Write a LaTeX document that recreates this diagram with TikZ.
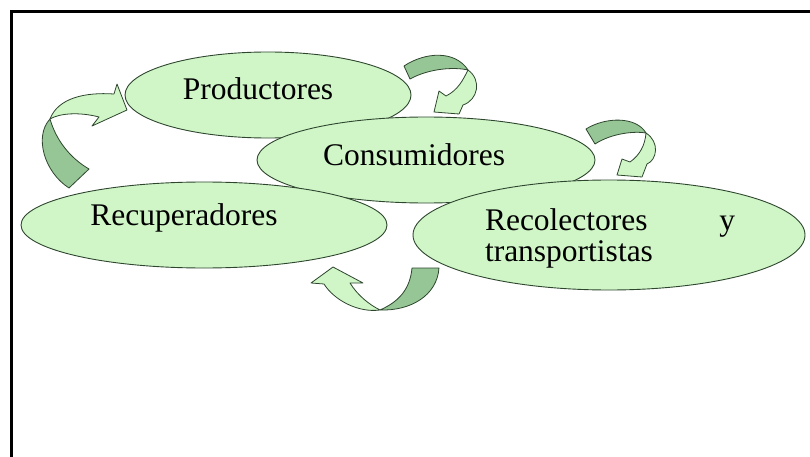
\documentclass[tikz,border=0pt]{standalone}
\usepackage{fontspec}
\setmainfont{Liberation Serif}
\usetikzlibrary{shapes.geometric}

\definecolor{blobfill}{RGB}{208,246,200}
\definecolor{blobline}{RGB}{45,70,45}
\definecolor{arrowdarkfill}{RGB}{150,198,150}

\tikzset{
  blob/.style={ellipse, draw=blobline, fill=blobfill, line width=0.9pt, inner sep=0pt},
  blobtext/.style={inner sep=0pt, font=\fontsize{31.5}{31}\selectfont},
  arrowlight/.style={draw=blobline, fill=blobfill, line width=0.8pt, line join=round},
  arrowdark/.style={draw=blobline, fill=arrowdarkfill, line width=0.8pt, line join=round}
}

\begin{document}
\begin{tikzpicture}[x=1pt, y=-1pt]
  \useasboundingbox (0,0) rectangle (810,457);

  \draw [line width=3pt] (11.5,457) -- (11.5,11.5) -- (810,11.5);

  \node [blob, minimum width=286pt, minimum height=86pt] (prod) at (268,95) {};
  \node [blobtext] (prodtext) at (258,89) {Productores};

  \node [blob, minimum width=338pt, minimum height=86pt] (cons) at (426,160) {};
  \node [blobtext] (constext) at (414,155) {Consumidores};

  \node [blob, minimum width=366pt, minimum height=86pt] (recu) at (204,225) {};
  \node [blobtext] (recutext) at (184,218) {Recuperadores};

  \node [blob, minimum width=392pt, minimum height=110pt] (reco) at (609,235) {};
  \node [blobtext, text width=250pt, align=left] (recotext) at (610,238)
    {\makebox[250pt][l]{Recolectores\hfill y}\\transportistas};

  % curved arrows
  \filldraw [arrowlight] (50,119) .. controls (58,98) and (85,92) .. (114,94)
    -- (117,84) -- (127,110) -- (92,126) -- (99,117)
    .. controls (80,112) and (60,113) .. (50,119) -- cycle;
  \filldraw [arrowdark] (50,119) .. controls (34,136) and (44,172) .. (69,188)
    -- (89,169) .. controls (70,158) and (56,140) .. (50,119) -- cycle;

  \filldraw [arrowlight] (468,70) .. controls (482,80) and (478,100) .. (463,105)
    -- (459,114) -- (434,112) -- (439,91) -- (446,96)
    .. controls (458,90) and (463,80) .. (468,70) -- cycle;
  \filldraw [arrowdark] (404,66) .. controls (425,52) and (455,50) .. (468,70)
    .. controls (455,67) and (430,68) .. (410,79) -- cycle;

  \filldraw [arrowlight] (646,133) .. controls (660,142) and (657,160) .. (647,164)
    -- (642,177) -- (617,175) -- (622,159) -- (630,162)
    .. controls (640,155) and (645,145) .. (646,133) -- cycle;
  \filldraw [arrowdark] (586,129) .. controls (605,117) and (636,116) .. (646,133)
    .. controls (635,131) and (612,133) .. (595,144) -- cycle;

  \filldraw [arrowlight] (380,310) .. controls (358,313) and (334,300) .. (324,284)
    -- (311,283) -- (333,267) -- (363,283) -- (350,283)
    .. controls (358,296) and (370,305) .. (380,310) -- cycle;
  \filldraw [arrowdark] (412,268) -- (439,268) .. controls (437,296) and (410,311) .. (380,310)
    .. controls (398,302) and (410,290) .. (412,268) -- cycle;
\end{tikzpicture}
\end{document}
